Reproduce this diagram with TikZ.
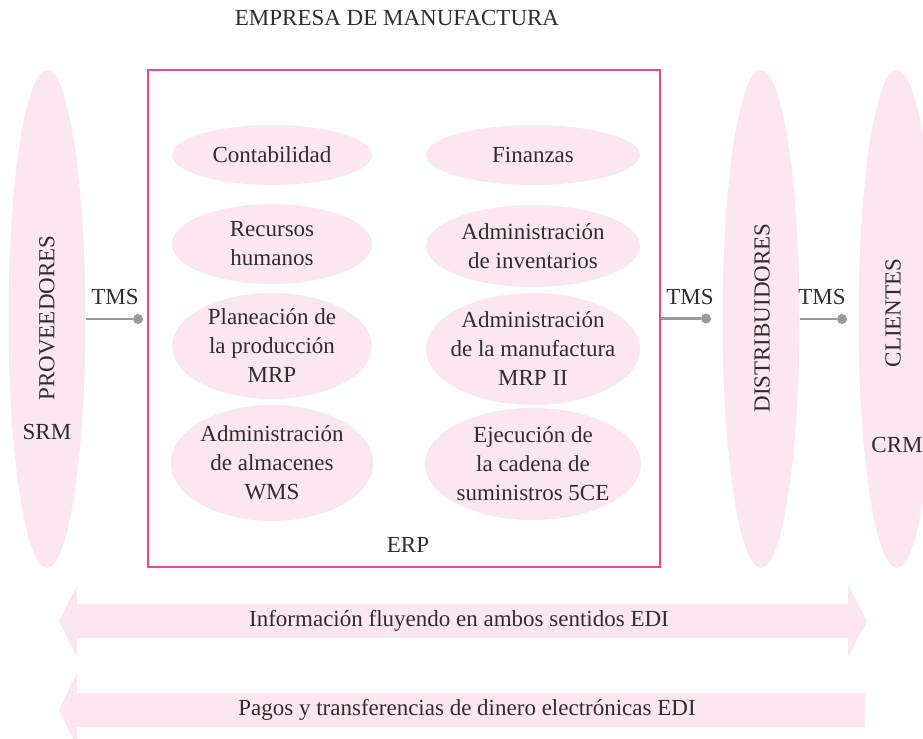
\documentclass[tikz,border=0pt]{standalone}
\usepackage{fontspec}
\setmainfont{Liberation Serif}
\usetikzlibrary{shapes.geometric,positioning}
\definecolor{rosa}{HTML}{FCE6EF}
\definecolor{bordeerp}{HTML}{E2499A}
\definecolor{gristms}{HTML}{9A9A9A}
\definecolor{texto}{HTML}{2E2E2E}

\begin{document}
\begin{tikzpicture}[x=0.5pt, y=-0.5pt,
  font=\fontsize{11.5}{14.5}\selectfont, text=texto,
  modulo/.style={ellipse, fill=rosa, inner sep=0pt, align=center},
  actor/.style={ellipse, fill=rosa, inner sep=0pt,
    minimum width=38.5pt, minimum height=249pt},
  punto/.style={circle, fill=gristms, inner sep=0pt, minimum size=5pt},
  conector/.style={gristms, line width=1.3pt}]
\clip (0,0) rectangle (923,739);
\useasboundingbox (0,0) rectangle (923,739);

% --- Title ---
\node (titulo) at (397,18) {EMPRESA DE MANUFACTURA};

% --- Side actors ---
\node[actor] (prov) at (47,319) {};
\node[rotate=90] (provt) at (47,318) {PROVEEDORES};
\node (srm) at (47,432) {SRM};
\node[actor] (dist) at (761,319) {};
\node[rotate=90] (distt) at (762,318) {DISTRIBUIDORES};
\node[actor] (clien) at (897,319) {};
\node[rotate=90] (cliet) at (893,313) {CLIENTES};
\node (crm) at (897,445) {CRM};

% --- ERP box ---
\node[draw=bordeerp, line width=0.75pt, minimum width=256pt,
  minimum height=248.5pt, inner sep=0pt] (erp) at (404,318.5) {};
\node (erpt) at (408,545) {ERP};

% Modules (left column)
\node[modulo, minimum width=100pt, minimum height=30pt] (conta) at (272,155)
  {Contabilidad};
\node[modulo, minimum width=100pt, minimum height=40pt] (rh) at (272,244)
  {Recursos\\humanos};
\node[modulo, minimum width=100pt, minimum height=53pt] (mrp) at (272,346)
  {Planeación de\\la producción\\MRP};
\node[modulo, minimum width=100pt, minimum height=58pt] (wms) at (272,463)
  {Administración\\de almacenes\\WMS};
% Modules (right column)
\node[modulo, minimum width=107pt, minimum height=30pt] (fin) at (533,155)
  {Finanzas};
\node[modulo, minimum width=107pt, minimum height=41pt] (inv) at (533,246)
  {Administración\\de inventarios};
\node[modulo, inner sep=-6pt, minimum width=107pt, minimum height=56pt]
  (mrp2) at (533,349) {Administración\\de la manufactura\\MRP II};
\node[modulo, minimum width=107pt, minimum height=56pt] (sce) at (533,464)
  {Ejecución de\\la cadena de\\suministros 5CE};

% --- TMS connectors ---
\node[punto] (p1) at (138,319) {};
\node[punto] (p2) at (706,318.5) {};
\node[punto] (p3) at (842,319) {};
\draw[conector] (prov) -- (p1);
\draw[conector] (erp) -- (p2);
\draw[conector] (dist) -- (p3);
\node (tms1) at (115,297) {TMS};
\node (tms2) at (690,297) {TMS};
\node (tms3) at (822,297) {TMS};

% --- Bottom arrows ---
\fill[rosa] (59,621) -- (77,585) -- (77,604) -- (848,604) -- (848,585)
  -- (867,621) -- (848,657) -- (848,638) -- (77,638) -- (77,657) -- cycle;
\node (info) at (459,621) {Información fluyendo en ambos sentidos EDI};
\fill[rosa] (59,710) -- (77,673) -- (77,693) -- (865,693) -- (865,727)
  -- (77,727) -- (77,747) -- cycle;
\node (pagos) at (467,710) {Pagos y transferencias de dinero electrónicas EDI};

\end{tikzpicture}
\end{document}
